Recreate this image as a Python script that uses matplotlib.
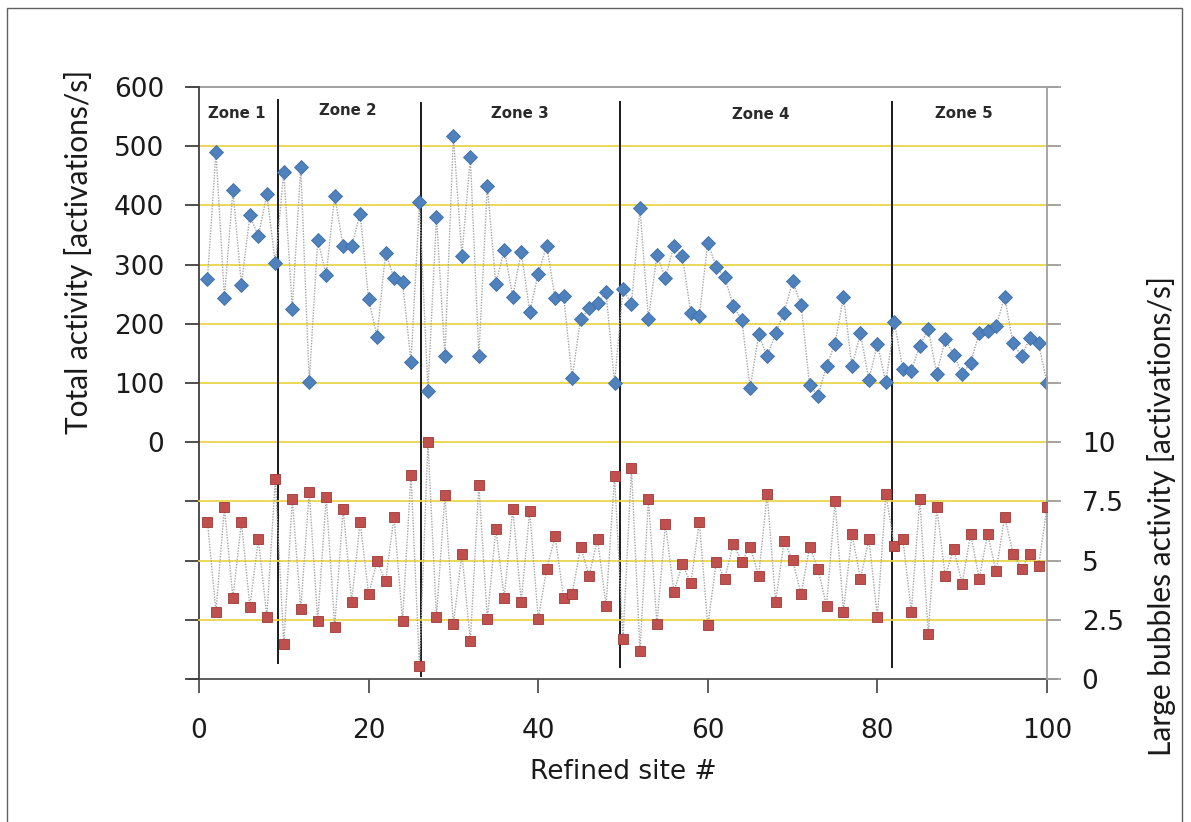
import numpy as np
import matplotlib
matplotlib.use("Agg")
import matplotlib.pyplot as plt
from matplotlib.patches import Rectangle

plt.rcParams['font.family'] = ['DejaVu Sans']

# ---- data ----
sites = list(range(1, 101))

total_activity = [
    276, 490, 244, 426, 266, 383, 348, 419, 302, 457,
    225, 465, 102, 342, 283, 416, 331, 331, 386, 242,
    178, 320, 277, 271, 136, 405, 87, 381, 145, 518,
    315, 481, 146, 433, 268, 325, 246, 322, 220, 284,
    332, 243, 247, 109, 208, 226, 235, 253, 100, 258,
    234, 395, 208, 316, 277, 332, 314, 218, 213, 337,
    296, 279, 230, 207, 92, 182, 145, 184, 219, 272,
    232, 97, 78, 129, 166, 246, 128, 184, 105, 166,
    101, 203, 123, 121, 163, 191, 115, 174, 147, 116,
    134, 184, 188, 196, 245, 167, 145, 176, 167, 100,
]

large_bubbles = [
    6.64, 2.85, 7.26, 3.41, 6.64, 3.05, 5.91, 2.63, 8.43, 1.48,
    7.59, 2.96, 7.90, 2.46, 7.70, 2.21, 7.19, 3.27, 6.64, 3.58,
    4.98, 4.12, 6.86, 2.46, 8.63, 0.53, 10.0, 2.63, 7.77, 2.32,
    5.29, 1.62, 8.21, 2.54, 6.33, 3.43, 7.19, 3.27, 7.08, 2.54,
    4.65, 6.02, 3.43, 3.58, 5.58, 4.36, 5.91, 3.10, 8.56, 1.70,
    8.89, 1.17, 7.59, 2.32, 6.55, 3.69, 4.85, 4.05, 6.64, 2.26,
    4.96, 4.23, 5.71, 4.96, 5.58, 4.36, 7.81, 3.27, 5.82, 5.04,
    3.58, 5.58, 4.65, 3.08, 7.50, 2.85, 6.13, 4.23, 5.91, 2.63,
    7.81, 5.60, 5.91, 2.85, 7.59, 1.90, 7.26, 4.34, 5.49, 4.03,
    6.13, 4.23, 6.13, 4.54, 6.86, 5.29, 4.65, 5.29, 4.76, 7.26,
]

zone_names = ["Zone 1", "Zone 2", "Zone 3", "Zone 4", "Zone 5"]
zone_label_x = [4.4, 17.5, 37.8, 66.3, 90.2]
zone_label_y = [555, 560, 555, 553, 555]
zone_bounds = [9.3, 26.2, 49.7, 81.7]
zone_line_top = [578, 573, 574, 574]
zone_line_bottom = [-373, -395, -380, -380]

left_ticks = list(range(-400, 601, 100))
right_ticks = list(np.arange(0, 25.01, 2.5))
x_ticks = [0, 20, 40, 60, 80, 100]

# ---- styling ----
BLUE = "#4F81BD"
RED = "#C0504D"
GRID = "#E8D54A"
CONNECT = "#A6A6A6"
TXT = "#1A1A1A"

W, H = 1191, 822
fig = plt.figure(figsize=(W / 100, H / 100), dpi=100)
fig.patches.append(Rectangle((7 / W, -0.01), (1182 - 7) / W, 1 - 8 / H + 0.01,
                             transform=fig.transFigure, fill=False,
                             edgecolor="#606060", linewidth=1.0))

ax = fig.add_axes([199 / W, 1 - 679 / H, (1047 - 199) / W, (679 - 87) / H])
ax2 = ax.twinx()

ax.set_xlim(0, 100)
ax.set_ylim(-400, 600)
ax2.set_ylim(0, 25)

# horizontal gridlines, running out to the ends of the tick marks
x_ext = 10 / ((1047 - 199) / 100)
for v in range(0, 501, 100):
    ax.plot([0, 100 + x_ext], [v, v], color=GRID, lw=1.3, clip_on=False, zorder=1)
for v in [2.5, 5, 7.5]:
    ax2.plot([0, 100 + x_ext], [v, v], color=GRID, lw=1.3, clip_on=False, zorder=1)
# frame lines at top and bottom
for v in [600, -400]:
    ax.plot([-x_ext, 100 + x_ext], [v, v],
            color="#9A9A9A" if v == 600 else "#505050",
            lw=1.3, clip_on=False, zorder=1)

# zone separators
for xb, yt, yb in zip(zone_bounds, zone_line_top, zone_line_bottom):
    ax.plot([xb, xb], [yb, yt], color="#1A1A1A", lw=1.4, zorder=2)
for name, zx, zy in zip(zone_names, zone_label_x, zone_label_y):
    ax.text(zx, zy, name, ha="center", va="center", fontsize=10.8,
            fontweight="bold", color="#2A2A2A")

# total activity series
ax.plot(sites, total_activity, color=CONNECT, lw=1.0, ls=(0, (1, 1)), zorder=3)
ax.plot(sites, total_activity, ls="none", marker="D", ms=6.8,
        mfc=BLUE, mec="#3F6FA8", mew=0.6, zorder=4)

# large bubbles series
ax2.plot(sites, large_bubbles, color=CONNECT, lw=1.0, ls=(0, (1, 1)), zorder=3)
ax2.plot(sites, large_bubbles, ls="none", marker="s", ms=7.0,
         mfc=RED, mec="#9E3A37", mew=0.6, zorder=4)

# axes / ticks
for a in (ax, ax2):
    for s in ("top", "bottom"):
        a.spines[s].set_visible(False)
    a.patch.set_visible(False)
ax.spines["left"].set_color("#404040")
ax.spines["left"].set_linewidth(1.3)
ax.spines["right"].set_visible(False)
ax2.spines["left"].set_visible(False)
ax2.spines["right"].set_color("#A0A0A0")
ax2.spines["right"].set_linewidth(1.3)

ax.set_yticks(left_ticks)
ax.set_yticklabels([str(t) if t >= 0 else "" for t in left_ticks])
ax2.set_yticks(right_ticks)
ax2.set_yticklabels([("%g" % t) if t <= 10 else "" for t in right_ticks])
ax.set_xticks(x_ticks)

ax.tick_params(axis="y", direction="out", length=10, width=1.3, color="#404040",
               labelsize=19, pad=15, labelcolor=TXT)
ax2.tick_params(axis="y", direction="out", length=10, width=1.3, color="#A0A0A0",
                labelsize=19, pad=15, labelcolor=TXT)
ax.tick_params(axis="x", direction="out", length=10, width=1.3, color="#505050",
               labelsize=19, pad=18, labelcolor=TXT)
ax2.tick_params(axis="x", length=0)

ax.set_xlabel("Refined site #", fontsize=19, color=TXT, labelpad=11)
fig.text(79 / W, 1 - 252 / H, "Total activity [activations/s]", rotation=90,
         ha="center", va="center", fontsize=21.5, color=TXT, family=["Lato"])
fig.text(1162 / W, 1 - 516 / H, "Large bubbles activity [activations/s]",
         rotation=90, ha="center", va="center", fontsize=21.5, color=TXT,
         family=["Lato"])

fig.savefig("out.png", dpi=100)
